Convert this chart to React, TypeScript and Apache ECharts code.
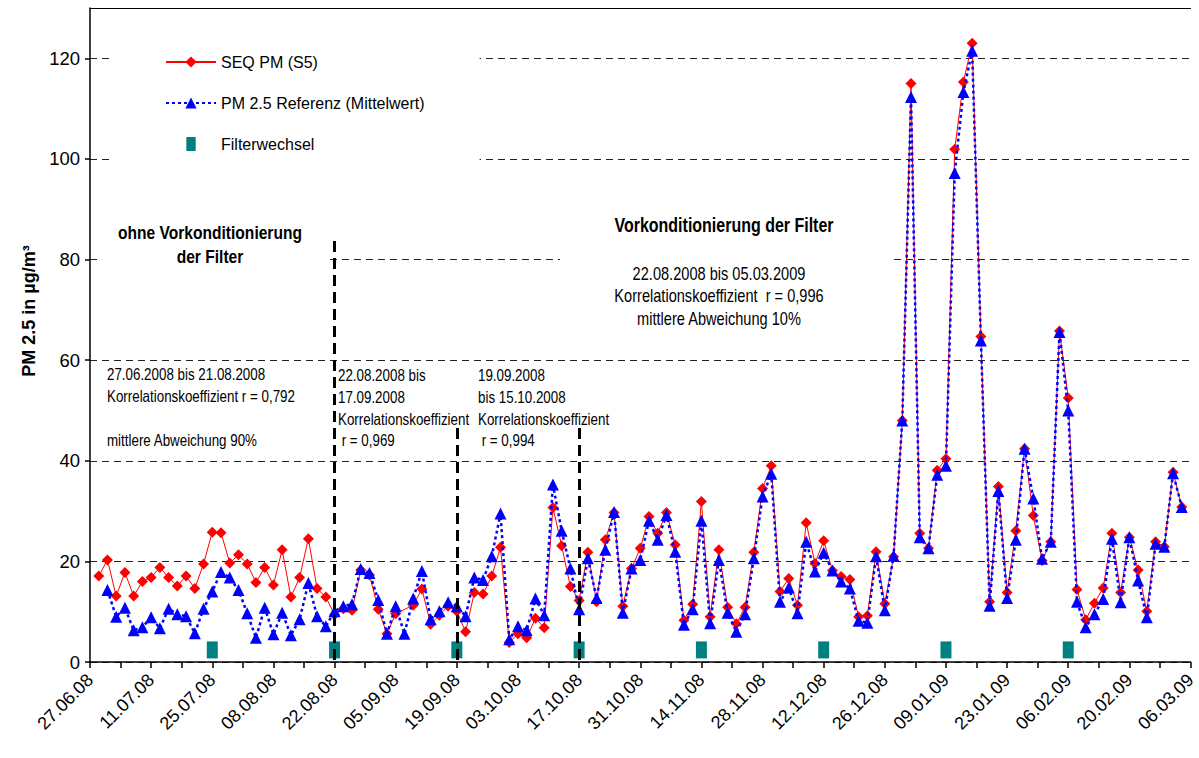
import React, { useEffect, useRef } from "react";
import * as echarts from "echarts";

// ---------- data ----------
const START_DATE = "27.06.08"; // first x-axis tick
const END_DATE = "06.03.09"; // last x-axis tick
const FIRST_SAMPLE = "29.06.08";
const SAMPLE_STEP_DAYS = 2;

const seqPM: (number | null)[] = [
  17.1, 20.3, 13.1, 17.8, 13.1, 16.0, 16.8, 18.8, 16.8, 15.1, 17.1, 14.6, 19.5, 25.8, 25.7, 19.7, 21.3, 19.5, 15.8, 18.8,
  15.3, 22.3, 12.9, 16.8, 24.5, 14.6, 12.9, 9.4,
  10.6, 10.3, 18.3, 17.3, 10.5, 5.6, 9.6, null, 11.3, 14.5, 7.5, 9.3, 11.1, 10.1, 6.0, 13.8, 13.5, 17.1, 22.8, 3.9,
  5.6, 4.8, 8.7, 6.8, 30.7, 23.1, 15.0, 12.2,
  21.8, 12.0, 24.3, 29.7, 11.1, 18.6, 22.6, 28.9, 25.6, 29.7, 23.3, 8.3, 11.5, 31.9, 9.0, 22.3, 10.9, 7.6, 10.9, 21.8,
  34.5, 39.0, 14.0, 16.6, 11.3, 27.7, 19.6, 24.1, 18.2, 17.0, 16.4, 9.0, 9.2, 21.9,
  11.6, 20.9, 48.0, 115.0, 25.6, 22.6, 38.1, 40.4, 101.9, 115.3, 123.0, 64.7, 12.0, 34.9, 13.8, 26.1, 42.4, 29.1, 20.2,
  23.9, 65.8, 52.5, 14.4, 8.4, 11.7, 14.7, 25.6, 13.8, 24.8, 18.3, 10.1, 23.9, 22.9, 37.7, 30.8,
];

const refPM: (number | null)[] = [
  null, 14.3, 9.0, 10.8, 6.3, 6.9, 8.9, 6.7, 10.6, 9.5, 9.1, 5.7, 10.6, 14.0, 17.9, 16.8, 14.3, 9.7, 4.8, 10.8,
  5.5, 9.8, 5.3, 8.5, 15.7, 9.1, 7.1, 10.1,
  11.1, 11.5, 18.5, 17.7, 12.3, 5.6, 11.1, 5.6, 12.6, 18.1, 8.5, 10.1, 11.9, 11.1, 9.1, 16.8, 16.3, 21.0, 29.5, 4.5,
  7.1, 6.3, 12.6, 9.3, 35.3, 26.1, 18.6, 10.5,
  20.6, 12.7, 22.3, 29.8, 9.8, 18.6, 20.3, 28.1, 24.3, 29.2, 21.9, 7.4, 10.5, 28.1, 7.7, 20.3, 9.8, 6.0, 9.5, 20.6,
  32.9, 37.4, 12.0, 14.8, 9.7, 23.9, 18.0, 21.7, 18.2, 16.0, 14.6, 8.2, 7.8, 21.0,
  10.3, 21.1, 48.0, 112.3, 24.8, 22.6, 37.2, 39.0, 97.2, 113.3, 121.5, 63.9, 11.2, 34.0, 12.7, 24.3, 42.4, 32.5, 20.5,
  23.9, 65.6, 50.0, 12.0, 6.9, 9.5, 12.5, 24.5, 11.9, 24.8, 16.2, 8.9, 23.5, 22.9, 37.5, 30.8,
];

const filterChangeDates = ["25.07.08", "22.08.08", "19.09.08", "17.10.08", "14.11.08", "12.12.08", "09.01.09", "06.02.09"];
const filterMarkLevel = 2.4;

// vertical period separators: [date, top value]
const periodBoundaries: [string, number][] = [
  ["22.08.08", 83.7],
  ["19.09.08", 46.5],
  ["17.10.08", 46.5],
];

const yTicks = { min: 0, max: 130, interval: 20, lastLabel: 120 };

const SERIES_SEQ = "SEQ PM (S5)";
const SERIES_REF = "PM 2.5 Referenz (Mittelwert)";
const SERIES_FILTER = "Filterwechsel";
const Y_NAME = "PM 2.5 in µg/m³";

// annotation texts
const noteLeftTitle = ["ohne Vorkonditionierung", "der Filter"];
const noteRightTitle = "Vorkonditionierung der Filter";
const noteRight = ["22.08.2008 bis 05.03.2009", "Korrelationskoeffizient  r = 0,996", "mittlere Abweichung 10%"];
const notePeriod1 = ["27.06.2008 bis 21.08.2008", "Korrelationskoeffizient r = 0,792", "", "mittlere Abweichung 90%"];
const notePeriod2 = ["22.08.2008 bis", "17.09.2008", "Korrelationskoeffizient", " r = 0,969"];
const notePeriod3 = ["19.09.2008", "bis 15.10.2008", "Korrelationskoeffizient", " r = 0,994"];

// ---------- helpers ----------
const DAY = 86400000;
const parseDate = (s: string) => {
  const [d, m, y] = s.split(".").map(Number);
  return Date.UTC(2000 + y, m - 1, d);
};
const START = parseDate(START_DATE);
const dayOf = (s: string) => Math.round((parseDate(s) - START) / DAY);
const pad = (n: number) => (n < 10 ? "0" + n : "" + n);
const fmtDay = (day: number) => {
  const dt = new Date(START + day * DAY);
  return `${pad(dt.getUTCDate())}.${pad(dt.getUTCMonth() + 1)}.${pad(dt.getUTCFullYear() % 100)}`;
};

const firstDay = dayOf(FIRST_SAMPLE);
const toXY = (arr: (number | null)[]) => arr.map((v, i) => [firstDay + i * SAMPLE_STEP_DAYS, v]);

const SANS = "'Liberation Sans', Arial, sans-serif";
const NARROW_SCALE = 0.82; // emulates the condensed (Arial Narrow) annotation font

function textLines(lines: string[], x: number, y0: number, step: number, font: string, align: string) {
  return lines.map((t, i) => ({
    type: "text",
    x,
    y: y0 + i * step,
    scaleX: NARROW_SCALE,
    z: 3,
    style: { text: t, font, fill: "#000", align, verticalAlign: "middle" },
  }));
}

export default function App() {
  const ref = useRef<HTMLDivElement>(null);
  useEffect(() => {
    if (!ref.current) return;
    const chart = echarts.init(ref.current, null, { renderer: "svg" });
    const xMax = dayOf(END_DATE);
    const option: any = {
      animation: false,
      textStyle: { fontFamily: SANS },
      grid: { left: 90, right: 2, top: 8, bottom: 96 },
      legend: {
        orient: "vertical",
        left: 113,
        top: 42,
        itemWidth: 50,
        itemHeight: 14,
        itemGap: 25,
        padding: [12, 55, 12, 52],
        backgroundColor: "#fff",
        selectedMode: false,
        textStyle: { fontFamily: SANS, fontSize: 16, color: "#000" },
        data: [
          { name: SERIES_SEQ },
          { name: SERIES_REF },
          { name: SERIES_FILTER, icon: "path://M0,0H10V15H0Z" },
        ],
      },
      xAxis: [
        {
          type: "value",
          min: 0,
          max: xMax,
          interval: 7,
          axisLine: { lineStyle: { color: "#000", width: 1.5 } },
          axisTick: { length: 6, lineStyle: { color: "#000", width: 1.5 } },
          splitLine: { show: false },
          axisLabel: {
            rotate: 45,
            margin: 15,
            fontSize: 18,
            color: "#000",
            fontFamily: SANS,
            formatter: (v: number) => (v % 14 === 0 ? fmtDay(v) : ""),
          },
        },
        {
          type: "value",
          position: "top",
          min: 0,
          max: xMax,
          axisLine: { show: true, lineStyle: { color: "#000", width: 1 } },
          axisTick: { show: false },
          axisLabel: { show: false },
          splitLine: { show: false },
        },
      ],
      yAxis: {
        type: "value",
        min: yTicks.min,
        max: yTicks.max,
        interval: yTicks.interval,
        name: Y_NAME,
        nameLocation: "middle",
        nameGap: 50,
        nameTextStyle: { fontWeight: "bold", fontSize: 18, color: "#000", fontFamily: SANS, padding: [0, 0, 0, 48] },
        axisLine: { show: true, lineStyle: { color: "#000", width: 1.5 } },
        axisTick: { show: true, length: 5, lineStyle: { color: "#000", width: 1.5 } },
        axisLabel: {
          fontSize: 18.5,
          color: "#000",
          margin: 10,
          fontFamily: SANS,
          showMaxLabel: false,
          formatter: (v: number) => (v > yTicks.lastLabel ? "" : String(v)),
        },
        splitLine: { show: true, lineStyle: { color: "#222", width: 1, type: [7, 5] } },
      },
      series: [
        {
          name: SERIES_SEQ,
          type: "line",
          data: toXY(seqPM),
          symbol: "diamond",
          symbolSize: 11,
          showAllSymbol: true,
          connectNulls: true,
          itemStyle: { color: "#ff0000" },
          lineStyle: { color: "#ff0000", width: 1 },
          z: 2,
        },
        {
          name: SERIES_REF,
          type: "line",
          data: toXY(refPM),
          symbol: "triangle",
          symbolSize: 12,
          showAllSymbol: true,
          connectNulls: true,
          itemStyle: { color: "#0000ff" },
          lineStyle: { color: "#0000ff", width: 2.5, type: [3, 3] },
          z: 3,
        },
        {
          name: SERIES_FILTER,
          type: "scatter",
          data: filterChangeDates.map((d) => [dayOf(d), filterMarkLevel]),
          symbol: "rect",
          symbolSize: [11, 17],
          itemStyle: { color: "#008080", opacity: 1 },
          z: 3,
        },
        {
          type: "line",
          data: [],
          z: 5,
          silent: true,
          markLine: {
            silent: true,
            symbol: ["none", "none"],
            label: { show: false },
            lineStyle: { color: "#000", width: 3, type: [11, 6] },
            data: periodBoundaries.map(([d, top]) => [
              { coord: [dayOf(d), top] },
              { coord: [dayOf(d), 0] },
            ]),
          },
        },
      ],
      graphic: [
        { type: "rect", z: 1, shape: { x: 98, y: 212, width: 227, height: 62 }, style: { fill: "#fff" } },
        ...textLines(noteLeftTitle, 210, 232, 24, `bold 19px ${SANS}`, "center"),
        { type: "rect", z: 1, shape: { x: 560, y: 205, width: 329, height: 125 }, style: { fill: "#fff" } },
        ...textLines([noteRightTitle], 724, 225, 24, `bold 19.5px ${SANS}`, "center"),
        ...textLines(noteRight, 719, 273, 22.5, `17.8px ${SANS}`, "center"),
        ...textLines(notePeriod1, 107, 375, 21.9, `16.3px ${SANS}`, "left"),
        ...textLines(notePeriod2, 338, 376, 21.6, `16.3px ${SANS}`, "left"),
        ...textLines(notePeriod3, 478, 376, 21.6, `16.3px ${SANS}`, "left"),
      ],
    };
    chart.setOption(option);
    return () => chart.dispose();
  }, []);
  return (
    <div
      ref={ref}
      style={{ position: "fixed", left: 0, top: 0, width: 1199, height: 758, background: "#fff" }}
    />
  );
}
